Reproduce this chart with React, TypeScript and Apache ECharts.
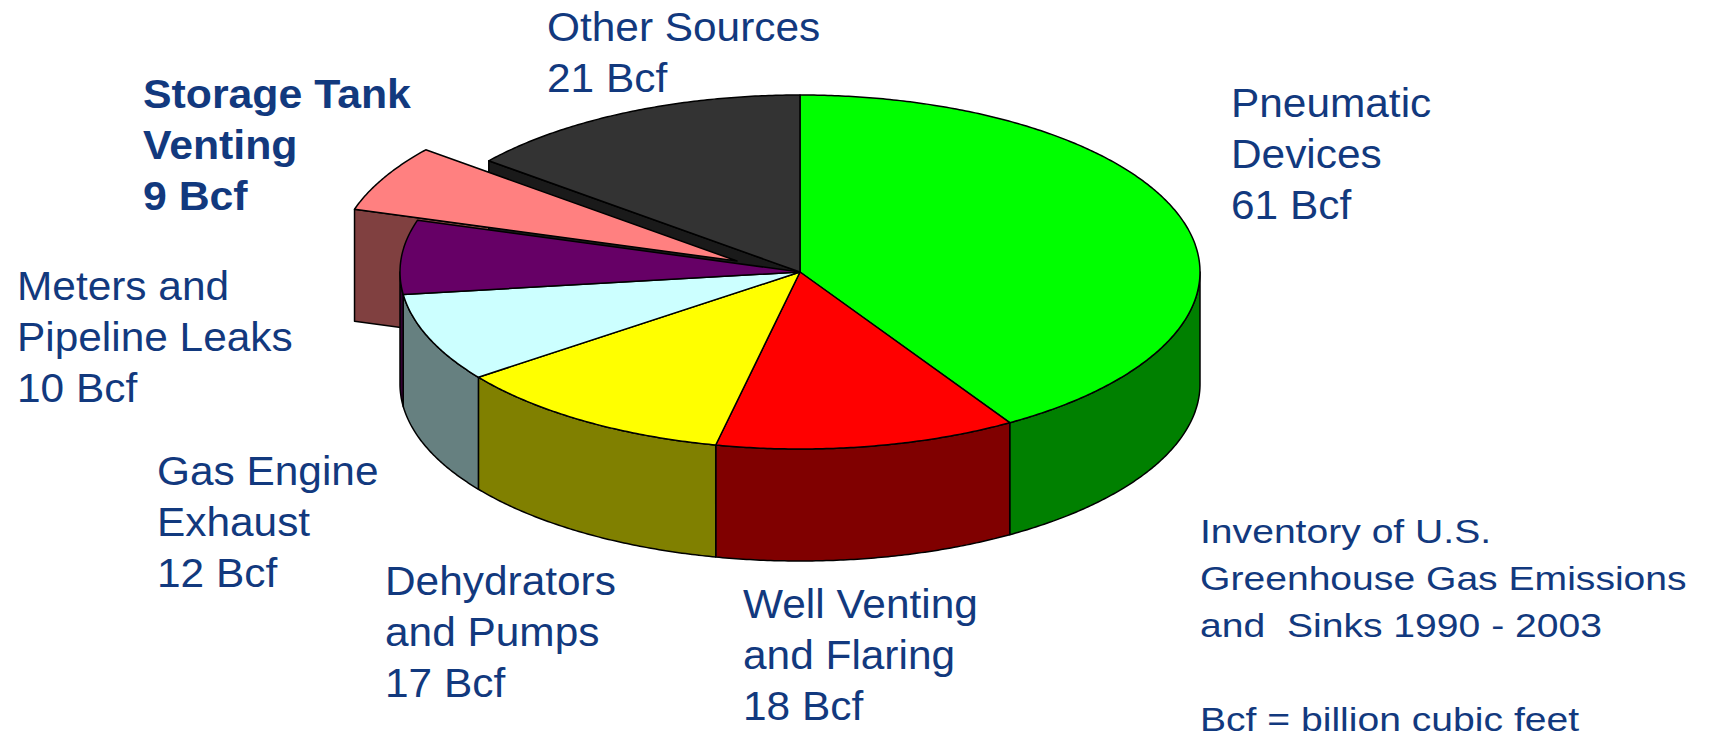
import React, { useEffect, useRef } from "react";
import * as echarts from "echarts";

// ---------- data ----------
const categories = [
  "Pneumatic Devices",
  "Well Venting and Flaring",
  "Dehydrators and Pumps",
  "Gas Engine Exhaust",
  "Meters and Pipeline Leaks",
  "Storage Tank Venting",
  "Other Sources",
];
const values = [61, 18, 17, 12, 10, 9, 21];
const labelNames = [
  ["Pneumatic", "Devices"],
  ["Well Venting", "and Flaring"],
  ["Dehydrators", "and Pumps"],
  ["Gas Engine", "Exhaust"],
  ["Meters and", "Pipeline Leaks"],
  ["Storage Tank", "Venting"],
  ["Other Sources"],
];
const unit = "Bcf";
const noteLines = [
  "Inventory of U.S.",
  "Greenhouse Gas Emissions",
  "and  Sinks 1990 - 2003",
  "",
  "Bcf = billion cubic feet",
];
const explodedIndex = 5;

// ---------- styles / layout ----------
const topColors = ["#00ff00", "#ff0000", "#ffff00", "#ccffff", "#660066", "#ff8080", "#333333"];
const sideColors = ["#008000", "#800000", "#808000", "#668080", "#330033", "#804040", "#1a1a1a"];
const labelPos: [number, number][] = [
  [1231, 117],
  [743, 618],
  [385, 595],
  [157, 485],
  [17, 300],
  [143, 108],
  [547, 41],
];
const boldLabel = [false, false, false, false, false, true, false];
const NAVY = "#12397e";
const FONT_FAMILY = '"Liberation Sans", Arial, Helvetica, sans-serif';

const CX = 800;
const CY = 272;
const RX = 400;
const RY = 177;
const DEPTH = 112;
const EXPLODE: [number, number] = [-63, -11];

const total = values.reduce((a, b) => a + b, 0);
const startAngles: number[] = [];
{
  let acc = 0;
  values.forEach((v) => {
    startAngles.push(90 - (acc / total) * 360);
    acc += v;
  });
}
const rad = (d: number) => (d * Math.PI) / 180;
const offsetOf = (i: number): [number, number] => (i === explodedIndex ? EXPLODE : [0, 0]);
const pt = (deg: number, h: number, o: [number, number]): number[] => [
  CX + o[0] + RX * Math.cos(rad(deg)),
  CY + o[1] - RY * Math.sin(rad(deg)) + h,
];
const arc = (from: number, to: number, h: number, o: [number, number]) => {
  const n = Math.max(2, Math.ceil(Math.abs(from - to) / 0.5));
  const out: number[][] = [];
  for (let k = 0; k <= n; k++) out.push(pt(from + ((to - from) * k) / n, h, o));
  return out;
};
const faceStyle = (fill: string) => ({ fill, stroke: "#000", lineWidth: 1.5, lineJoin: "round" });

function sliceAngles(i: number, v: number) {
  const a1 = startAngles[i];
  const a2 = a1 - (v / total) * 360;
  return [a1, a2];
}

export default function App() {
  const ref = useRef<HTMLDivElement>(null);
  useEffect(() => {
    if (!ref.current) return;
    const chart = echarts.init(ref.current, undefined, { renderer: "svg" });
    const data = values.map((v, i) => ({ name: categories[i], value: v }));

    const cutSeries = {
      type: "custom",
      coordinateSystem: "none",
      z: 1,
      silent: true,
      data,
      renderItem: (params: any, api: any) => {
        const i = params.dataIndex;
        const v = api.value(0);
        const [a1, a2] = sliceAngles(i, v);
        const o = offsetOf(i);
        const n = values.length;
        const children: any[] = [];
        const c = [CX + o[0], CY + o[1]];
        const face = (deg: number) => {
          const p = pt(deg, 0, o);
          return [c, p, [p[0], p[1] + DEPTH], [c[0], c[1] + DEPTH]];
        };
        const prev = (i - 1 + n) % n;
        const next = (i + 1) % n;
        if (Math.sin(rad(a1 + 90)) < 0 && (i === explodedIndex || prev === explodedIndex)) {
          children.push({ type: "polygon", shape: { points: face(a1) }, style: faceStyle(sideColors[i]) });
        }
        if (Math.sin(rad(a2 - 90)) < 0 && (i === explodedIndex || next === explodedIndex)) {
          children.push({ type: "polygon", shape: { points: face(a2) }, style: faceStyle(sideColors[i]) });
        }
        return { type: "group", children };
      },
    };

    const sideSeries = {
      type: "custom",
      coordinateSystem: "none",
      z: 2,
      silent: true,
      data,
      renderItem: (params: any, api: any) => {
        const i = params.dataIndex;
        const v = api.value(0);
        const [a1, a2] = sliceAngles(i, v);
        const o = offsetOf(i);
        const hi = Math.min(a1, 0);
        const lo = Math.max(a2, -180);
        if (hi <= lo) return { type: "group", children: [] };
        const points = [...arc(hi, lo, 0, o), ...arc(lo, hi, DEPTH, o)];
        return { type: "polygon", shape: { points }, style: faceStyle(sideColors[i]) };
      },
    };

    const topSeries = {
      type: "custom",
      coordinateSystem: "none",
      z: 3,
      silent: true,
      data,
      renderItem: (params: any, api: any) => {
        const i = params.dataIndex;
        const v = api.value(0);
        const [a1, a2] = sliceAngles(i, v);
        const o = offsetOf(i);
        const points = [[CX + o[0], CY + o[1]], ...arc(a1, a2, 0, o)];
        return { type: "polygon", shape: { points }, style: faceStyle(topColors[i]) };
      },
    };

    // one text element per line; baseline positioned explicitly
    const makeLines = (
      x: number,
      baseline: number,
      lines: string[],
      size: number,
      step: number,
      sx: number,
      bold: boolean
    ) =>
      lines
        .map((line, k) => ({ line, k }))
        .filter((d) => d.line !== "")
        .map(({ line, k }) => ({
          type: "text",
          x,
          y: baseline + k * step - 0.3465 * size - size / 2,
          scaleX: sx,
          silent: true,
          z: 10,
          style: {
            text: line,
            x: 0,
            y: 0,
            fontSize: size,
            fontFamily: FONT_FAMILY,
            fontWeight: bold ? "bold" : "normal",
            fill: NAVY,
            lineHeight: size,
            align: "left",
            verticalAlign: "top",
            textAlign: "left",
            textVerticalAlign: "top",
          },
        }));

    const labels: any[] = [];
    values.forEach((v, i) => {
      labels.push(
        ...makeLines(
          labelPos[i][0],
          labelPos[i][1],
          [...labelNames[i], `${v} ${unit}`],
          40,
          51,
          boldLabel[i] ? 1.07 : 1.06,
          boldLabel[i]
        )
      );
    });
    labels.push(...makeLines(1200, 543, noteLines, 34, 47, 1.15, false));

    chart.setOption({
      animation: false,
      backgroundColor: "#ffffff",
      series: [cutSeries, sideSeries, topSeries],
      graphic: { elements: labels },
    } as any);

    return () => chart.dispose();
  }, []);

  return (
    <div
      ref={ref}
      style={{ position: "absolute", left: 0, top: 0, width: 1716, height: 738 }}
    />
  );
}
